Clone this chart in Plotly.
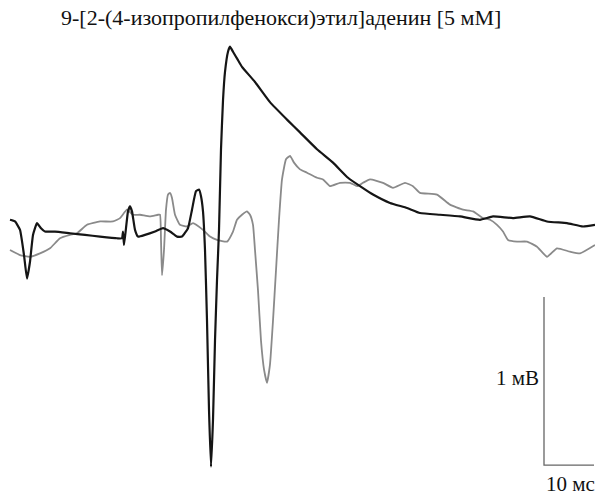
import plotly.graph_objects as go

# Time (ms) and potential (mV)
t_black = [2.0, 3.0, 4.0, 4.8, 5.4, 6.0, 6.6, 7.4, 8.2, 9.0, 11.0, 14.0, 17.0, 20.0, 23.4,
           24.4, 24.6, 24.8, 25.2, 25.6, 26.0, 26.4, 27.0, 27.6, 29.0, 31.0, 32.6, 34.0,
           35.4, 36.4, 37.6, 38.4, 39.2, 39.8, 40.2, 40.6, 41.0, 41.4, 41.8, 42.2, 42.6,
           43.0, 43.4, 43.8, 44.2, 44.6, 45.0, 45.6, 46.0, 46.6, 47.6, 48.4, 51.0, 54.0,
           57.6, 60.0, 63.4, 66.6, 69.6, 72.0, 74.6, 78.0, 81.4, 84.0, 88.0, 92.0, 96.0,
           98.6, 102.6, 106.0, 109.4, 113.4, 116.6, 119.0]
v_black = [0.18, 0.17, 0.12, -0.03, -0.17, -0.07, 0.09, 0.16, 0.13, 0.11, 0.11, 0.10, 0.09,
           0.08, 0.07, 0.07, 0.11, 0.03, 0.13, 0.23, 0.26, 0.23, 0.12, 0.08, 0.09, 0.11,
           0.13, 0.11, 0.08, 0.08, 0.13, 0.24, 0.35, 0.36, 0.32, 0.23, 0.00, -0.42, -0.95,
           -1.29, -1.01, -0.54, -0.18, 0.12, 0.60, 0.89, 1.06, 1.18, 1.21, 1.18, 1.13, 1.09,
           1.00, 0.88, 0.77, 0.70, 0.60, 0.52, 0.43, 0.38, 0.33, 0.28, 0.25, 0.22, 0.21,
           0.20, 0.18, 0.20, 0.19, 0.20, 0.17, 0.16, 0.14, 0.15]

t_gray = [2.0, 4.0, 6.0, 8.0, 10.0, 12.0, 14.0, 15.4, 17.4, 20.0, 22.6, 24.0, 25.4, 26.6,
          28.0, 30.0, 31.6, 32.0, 32.2, 32.4, 32.8, 33.2, 33.6, 34.0, 34.4, 35.0, 36.0,
          37.4, 38.6, 40.6, 42.0, 43.4, 45.4, 46.6, 47.4, 48.4, 49.4, 50.0, 50.6, 51.0,
          51.6, 52.2, 52.8, 53.4, 54.0, 54.6, 55.2, 55.8, 56.4, 57.2, 58.0, 58.8, 60.0,
          61.4, 63.4, 64.6, 66.0, 68.0, 70.0, 71.4, 72.6, 74.0, 76.6, 78.6, 81.0, 82.6,
          84.0, 87.4, 90.0, 92.6, 94.6, 96.6, 98.0, 99.4, 100.6, 101.6, 103.4, 105.4,
          107.4, 109.4, 111.4, 114.0, 116.0, 119.0]
v_gray = [0.00, -0.03, -0.04, -0.02, 0.01, 0.07, 0.09, 0.10, 0.15, 0.17, 0.17, 0.19, 0.24,
          0.21, 0.21, 0.20, 0.21, 0.21, 0.06, -0.15, 0.00, 0.24, 0.33, 0.34, 0.31, 0.21,
          0.15, 0.14, 0.16, 0.12, 0.08, 0.06, 0.05, 0.11, 0.18, 0.21, 0.23, 0.21, 0.15,
          0.00, -0.24, -0.54, -0.71, -0.79, -0.68, -0.42, -0.12, 0.18, 0.42, 0.54, 0.56,
          0.52, 0.48, 0.46, 0.43, 0.42, 0.38, 0.40, 0.40, 0.38, 0.40, 0.42, 0.40, 0.37,
          0.40, 0.38, 0.34, 0.33, 0.27, 0.24, 0.23, 0.19, 0.18, 0.15, 0.11, 0.06, 0.05,
          0.05, 0.02, -0.04, 0.01, -0.01, -0.02, 0.03]

# Scale bar (10 ms, 1 mV)
bar_t0 = 108.8
bar_ms = 10
bar_v0 = -1.28
bar_mV = 1

title_text = "9-[2-(4-изопропилфенокси)этил]аденин [5 мМ]"
label_v = "1 мВ"
label_t = "10 мс"

fig = go.Figure()
fig.add_trace(go.Scatter(x=t_gray, y=v_gray, mode="lines",
                         line=dict(color="#8a8a8a", width=1.8, shape="spline", smoothing=0.4),
                         hoverinfo="skip"))
fig.add_trace(go.Scatter(x=t_black, y=v_black, mode="lines",
                         line=dict(color="#151515", width=2.2, shape="spline", smoothing=0.4),
                         hoverinfo="skip"))
fig.add_trace(go.Scatter(x=[bar_t0, bar_t0, bar_t0 + bar_ms],
                         y=[bar_v0 + bar_mV, bar_v0, bar_v0], mode="lines",
                         line=dict(color="#666666", width=1.3), hoverinfo="skip"))

serif = "Liberation Serif, Times New Roman, serif"
fig.add_annotation(x=0.472, y=1 - 17 / 495, xref="paper", yref="paper",
                   text=title_text, showarrow=False, yanchor="middle",
                   font=dict(family=serif, size=22, color="#111111"))
fig.add_annotation(x=bar_t0 - 0.6, y=bar_v0 + bar_mV / 2 + 0.02, text=label_v,
                   showarrow=False, xanchor="right", yanchor="middle",
                   font=dict(family=serif, size=21, color="#111111"))
fig.add_annotation(x=bar_t0 + bar_ms / 2 + 0.2, y=bar_v0 - 0.03, text=label_t,
                   showarrow=False, xanchor="center", yanchor="top",
                   font=dict(family=serif, size=21, color="#111111"))

fig.update_layout(
    width=595, height=495,
    margin=dict(l=0, r=0, t=0, b=0),
    paper_bgcolor="white", plot_bgcolor="white",
    showlegend=False,
    xaxis=dict(range=[0, 119], visible=False, fixedrange=True),
    yaxis=dict(range=[-1.458, 1.488], visible=False, fixedrange=True),
)
fig.write_html("out.html", config={"displayModeBar": False},
               post_script="document.body.style.margin='0';")
